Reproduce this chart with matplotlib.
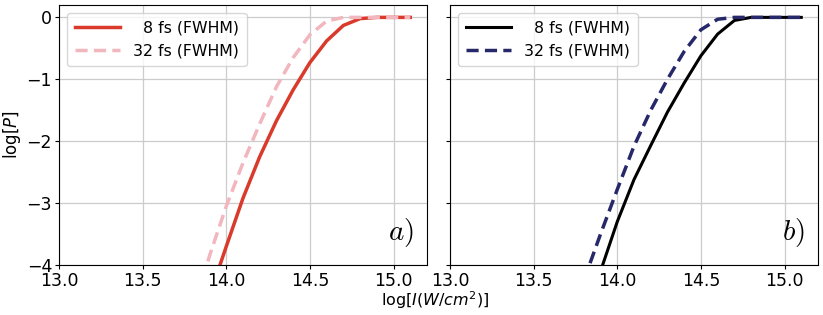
import matplotlib.pyplot as plt

# log10 of intensity grid
x = [13.8, 13.9, 14.0, 14.1, 14.2, 14.3, 14.4, 14.5, 14.6, 14.7, 14.8, 14.9, 15.0, 15.1]

# panel a)
a_8fs = [-5.3, -4.5, -3.7, -2.92, -2.25, -1.67, -1.17, -0.73, -0.38, -0.13, -0.02, 0.0, 0.0, 0.0]
a_32fs = [-4.8, -3.85, -3.05, -2.35, -1.72, -1.12, -0.65, -0.28, -0.06, 0.0, 0.0, 0.0, 0.0, 0.0]

# panel b)
b_8fs = [-4.9, -4.1, -3.3, -2.62, -2.07, -1.53, -1.06, -0.62, -0.27, -0.05, 0.0, 0.0, 0.0, 0.0]
b_32fs = [-4.25, -3.5, -2.78, -2.08, -1.5, -1.0, -0.55, -0.2, -0.03, 0.0, 0.0, 0.0, 0.0, 0.0]

labels = ['  8 fs (FWHM)', '32 fs (FWHM)']

fig = plt.figure(figsize=(8.23, 3.15), dpi=100)
W, H = 823, 315
ax1 = fig.add_axes([59 / W, 50 / H, 368 / W, 260 / H])
ax2 = fig.add_axes([450 / W, 50 / H, 368 / W, 260 / H])

ax1.plot(x, a_8fs, color='#d93a2b', lw=2.5, label=labels[0])
ax1.plot(x, a_32fs, color='#f2b6bf', lw=2.5, ls=(0, (3.5, 1.8)), label=labels[1])
ax2.plot(x, b_8fs, color='black', lw=2.2, label=labels[0])
ax2.plot(x, b_32fs, color='#27286a', lw=2.5, ls=(0, (3.5, 1.8)), label=labels[1])

for ax, tag in [(ax1, '$a)$'), (ax2, '$b)$')]:
    ax.set_xlim(13.0, 15.2)
    ax.set_ylim(-4, 0.2)
    ax.set_xticks([13.0, 13.5, 14.0, 14.5, 15.0])
    ax.set_yticks([0, -1, -2, -3, -4])
    ax.tick_params(labelsize=12.5, length=3, pad=2)
    ax.grid(True, color='#cccccc', lw=0.9)
    ax.legend(loc='upper left', fontsize=11.3, handlelength=2.9, borderpad=0.5)
    ax.text(0.965, 0.06, tag, transform=ax.transAxes, ha='right', va='bottom',
            fontsize=21, math_fontfamily='cm')

ax2.tick_params(labelleft=False)
ax1.set_ylabel('log[$P$]', fontsize=12)
ax1.yaxis.set_label_coords(-36 / 368, 0.5)
fig.text(435 / W, 1 - 300 / H, 'log[$I(W/cm^2)$]', ha='center', va='center', fontsize=11.5)

fig.savefig('out.png', dpi=100)
